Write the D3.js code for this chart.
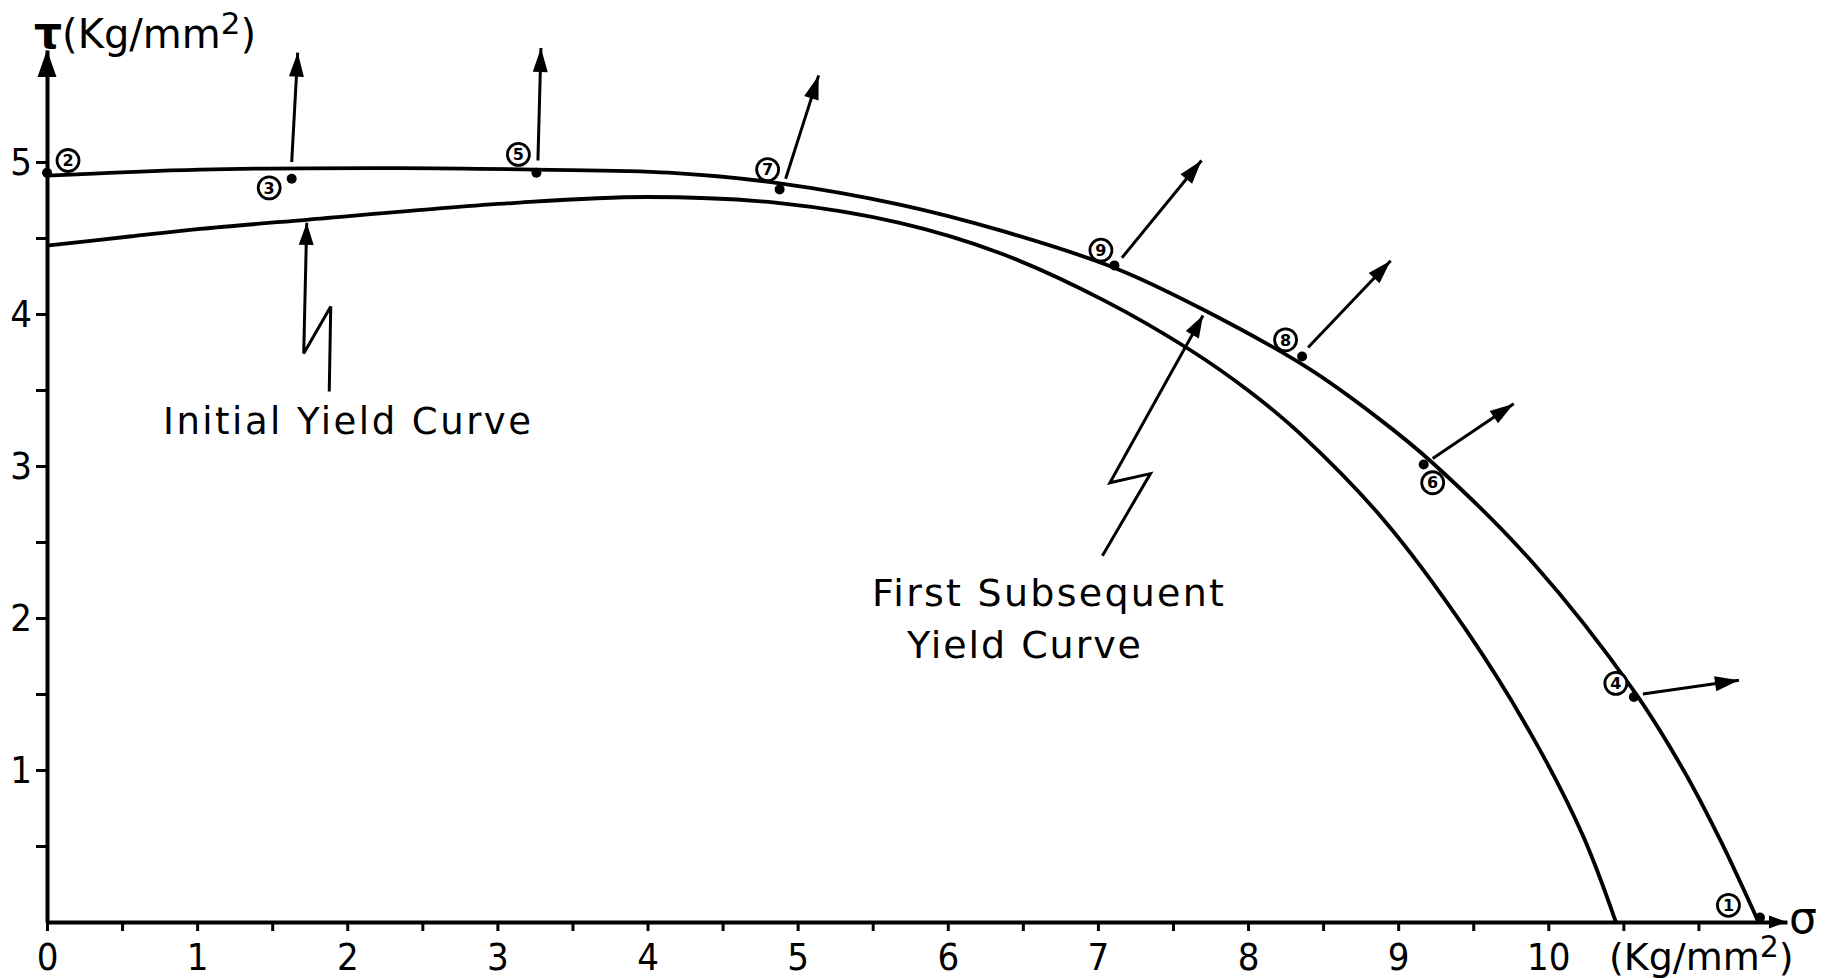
<!DOCTYPE html>
<html><head><meta charset="utf-8">
<script src="https://cdn.jsdelivr.net/npm/d3@7"></script>
<style>
html,body{margin:0;padding:0;background:#fff;}
svg{display:block;}
</style>
</head><body>
<svg id="chart" width="1842" height="978"></svg>
<script>
// ---------- data ----------
const xTickValues = [0, 0.5, 1, 1.5, 2, 2.5, 3, 3.5, 4, 4.5, 5, 5.5, 6, 6.5, 7, 7.5, 8, 8.5, 9, 9.5, 10, 10.5, 11];
const xTickLabels = ["0", "", "1", "", "2", "", "3", "", "4", "", "5", "", "6", "", "7", "", "8", "", "9", "", "10", "", ""];
const yTickValues = [0.5, 1, 1.5, 2, 2.5, 3, 3.5, 4, 4.5, 5];
const yTickLabels = ["", "1", "", "2", "", "3", "", "4", "", "5"];

// Initial yield curve
const initialX = [0, 0.55, 1.02, 1.73, 3.10, 3.99, 4.88, 5.68, 6.35, 7.04, 7.62, 8.01, 8.35, 8.90, 9.46, 9.90, 10.23, 10.45];
const initialY = [4.45, 4.51, 4.56, 4.62, 4.73, 4.77, 4.73, 4.60, 4.40, 4.09, 3.76, 3.49, 3.21, 2.65, 1.91, 1.21, 0.57, 0.0];
// First subsequent yield curve
const subsequentX = [0, 1.02, 2.35, 3.25, 4.14, 4.88, 5.68, 6.35, 7.12, 7.70, 8.39, 8.86, 9.23, 9.90, 10.57, 10.90, 11.15, 11.40];
const subsequentY = [4.91, 4.95, 4.96, 4.95, 4.93, 4.86, 4.72, 4.55, 4.30, 4.03, 3.65, 3.32, 3.02, 2.36, 1.52, 1.00, 0.53, 0.0];

// Experimental points
const pointIds = ["1", "2", "3", "4", "5", "6", "7", "8", "9"];
const pointX = [11.41, 0.0, 1.63, 10.57, 3.26, 9.17, 4.88, 8.36, 7.11];
const pointY = [0.03, 4.93, 4.89, 1.48, 4.93, 3.01, 4.82, 3.72, 4.32];
const labelX = [11.20, 0.14, 1.48, 10.45, 3.14, 9.23, 4.80, 8.25, 7.02];
const labelY = [0.11, 5.01, 4.83, 1.57, 5.05, 2.89, 4.95, 3.83, 4.42];

// Normal (plastic strain increment) vectors
const vecStartX = [1.63, 3.27, 4.92, 7.16, 8.40, 9.23, 10.63];
const vecStartY = [5.00, 5.01, 4.89, 4.37, 3.78, 3.05, 1.50];
const vecTipX = [1.67, 3.29, 5.14, 7.69, 8.95, 9.77, 11.27];
const vecTipY = [5.72, 5.75, 5.57, 5.01, 4.35, 3.41, 1.59];

// Zig-zag leader lines for the curve names
const leaderInitialX = [1.88, 1.89, 1.71, 1.73];
const leaderInitialY = [3.49, 4.05, 3.74, 4.60];
const leaderSubsequentX = [7.03, 7.35, 7.08, 7.70];
const leaderSubsequentY = [2.41, 2.95, 2.89, 3.99];

const curveNames = ["Initial Yield Curve", "First Subsequent", "Yield Curve"];

// ---------- drawing ----------
const svg = d3.select("#chart");
const x = d3.scaleLinear().domain([0, 11.59]).range([47, 1787]);
const y = d3.scaleLinear().domain([0, 5.737]).range([922, 50]);
const FONT = "'DejaVu Sans', 'Liberation Sans', sans-serif";
const FONT_C = "'DejaVu Sans Condensed', 'DejaVu Sans', sans-serif";

svg.append("rect").attr("width", 1842).attr("height", 978).attr("fill", "#fff");

// arrowhead helper
function arrowHead(g, x1, y1, x2, y2, len, wid) {
  const a = Math.atan2(y2 - y1, x2 - x1);
  const bx = x2 - len * Math.cos(a), by = y2 - len * Math.sin(a);
  const px = -Math.sin(a) * wid / 2, py = Math.cos(a) * wid / 2;
  g.append("path")
    .attr("d", `M${x2},${y2}L${bx + px},${by + py}L${bx - px},${by - py}Z`)
    .attr("fill", "#000");
}

// x axis
const xAxis = d3.axisBottom(x).tickValues(xTickValues)
  .tickFormat((d, i) => xTickLabels[i]).tickSizeInner(9).tickSizeOuter(0).tickPadding(12);
const gx = svg.append("g").attr("transform", `translate(0,${y(0)})`).call(xAxis);
gx.select(".domain").attr("stroke", "#000").attr("stroke-width", 4);
gx.selectAll(".tick line").attr("stroke", "#000").attr("stroke-width", 3);
gx.selectAll(".tick text").attr("font-family", FONT_C).attr("font-size", 38).attr("fill", "#000");

// y axis
const yAxis = d3.axisLeft(y).tickValues(yTickValues)
  .tickFormat((d, i) => yTickLabels[i]).tickSizeInner(11).tickSizeOuter(0).tickPadding(4);
const gy = svg.append("g").attr("transform", `translate(${x(0)},0)`).call(yAxis);
gy.select(".domain").attr("stroke", "#000").attr("stroke-width", 4);
gy.selectAll(".tick line").attr("stroke", "#000").attr("stroke-width", 3);
gy.selectAll(".tick text").attr("font-family", FONT_C).attr("font-size", 38).attr("fill", "#000");

// axis arrows
const ga = svg.append("g");
arrowHead(ga, x(0), y(0), x(0), y(5.737), 27, 19);
arrowHead(ga, x(0), y(0), x(11.59), y(0), 18, 13);

// axis titles
const yt = svg.append("text").attr("x", 34).attr("y", 48)
  .attr("font-family", FONT).attr("font-size", 40).attr("fill", "#000");
yt.append("tspan").text("τ").attr("font-size", 44).attr("font-weight", "bold");
yt.append("tspan").text("(Kg/mm");
yt.append("tspan").text("2").attr("font-size", 31).attr("dy", -14);
yt.append("tspan").text(")").attr("dy", 14);

const xt = svg.append("text").attr("x", 1609).attr("y", 970)
  .attr("font-family", FONT).attr("font-size", 38).attr("fill", "#000");
xt.append("tspan").text("(Kg/mm");
xt.append("tspan").text("2").attr("font-size", 30).attr("dy", -13);
xt.append("tspan").text(")").attr("dy", 13);

svg.append("text").attr("x", 1789).attr("y", 933)
  .attr("font-family", FONT).attr("font-size", 44).attr("fill", "#000").text("σ");

// curves
const line = d3.line().x(d => x(d[0])).y(d => y(d[1])).curve(d3.curveCatmullRom.alpha(0.5));
svg.append("path").datum(d3.zip(initialX, initialY)).attr("d", line)
  .attr("fill", "none").attr("stroke", "#000").attr("stroke-width", 3.8);
svg.append("path").datum(d3.zip(subsequentX, subsequentY)).attr("d", line)
  .attr("fill", "none").attr("stroke", "#000").attr("stroke-width", 3.8);

// normal vectors
const gv = svg.append("g");
vecStartX.forEach((_, i) => {
  const x1 = x(vecStartX[i]), y1 = y(vecStartY[i]), x2 = x(vecTipX[i]), y2 = y(vecTipY[i]);
  gv.append("line").attr("x1", x1).attr("y1", y1).attr("x2", x2).attr("y2", y2)
    .attr("stroke", "#000").attr("stroke-width", 3);
  arrowHead(gv, x1, y1, x2, y2, 24, 15);
});

// points + circled labels
const gp = svg.append("g");
pointIds.forEach((id, i) => {
  gp.append("circle").attr("cx", x(pointX[i])).attr("cy", y(pointY[i])).attr("r", 5).attr("fill", "#000");
  gp.append("circle").attr("cx", x(labelX[i])).attr("cy", y(labelY[i])).attr("r", 11)
    .attr("fill", "#fff").attr("stroke", "#000").attr("stroke-width", 2.8);
  gp.append("text").attr("x", x(labelX[i])).attr("y", y(labelY[i])).attr("dy", "0.36em")
    .attr("text-anchor", "middle").attr("font-family", FONT).attr("font-weight", "bold")
    .attr("font-size", 16).attr("fill", "#000").text(id);
});

// leader lines
const leader = d3.line().x(d => x(d[0])).y(d => y(d[1]));
[[leaderInitialX, leaderInitialY], [leaderSubsequentX, leaderSubsequentY]].forEach(([lx, ly]) => {
  const pts = d3.zip(lx, ly);
  svg.append("path").datum(pts).attr("d", leader).attr("fill", "none")
    .attr("stroke", "#000").attr("stroke-width", 3).attr("stroke-linejoin", "miter");
  const n = pts.length;
  arrowHead(svg, x(pts[n - 2][0]), y(pts[n - 2][1]), x(pts[n - 1][0]), y(pts[n - 1][1]), 22, 15);
});

// curve names
svg.append("text").attr("x", 163).attr("y", 434).attr("font-family", FONT).attr("font-size", 37)
  .attr("fill", "#000").attr("textLength", 368).attr("lengthAdjust", "spacing").text(curveNames[0]);
svg.append("text").attr("x", 872).attr("y", 606).attr("font-family", FONT).attr("font-size", 38)
  .attr("fill", "#000").attr("textLength", 352).attr("lengthAdjust", "spacing").text(curveNames[1]);
svg.append("text").attr("x", 907).attr("y", 658).attr("font-family", FONT).attr("font-size", 38)
  .attr("fill", "#000").attr("textLength", 234).attr("lengthAdjust", "spacing").text(curveNames[2]);
</script>
</body></html>
